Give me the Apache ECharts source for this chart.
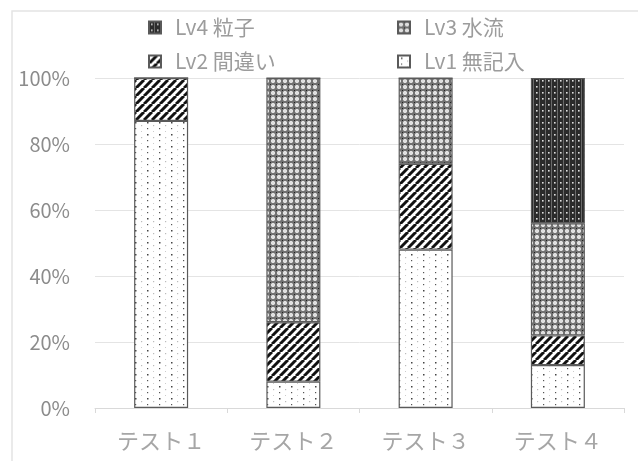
<!DOCTYPE html>
<html>
<head>
<meta charset="utf-8">
<script src="https://cdn.jsdelivr.net/npm/echarts@6/dist/echarts.min.js"></script>
<style>
  html, body { margin: 0; padding: 0; background: #fff; }
  #chart { width: 638px; height: 461px; }
</style>
</head>
<body>
<div id="chart"></div>
<script>
// Category labels and stacked percentages per level
const categories = ['テスト１', 'テスト２', 'テスト３', 'テスト４'];
const lv1Values = [87, 8, 48, 13];   // Lv1 無記入
const lv2Values = [13, 18, 26, 9];   // Lv2 間違い
const lv3Values = [0, 74, 26, 34];   // Lv3 水流
const lv4Values = [0, 0, 0, 44];     // Lv4 粒子
const seriesNames = ['Lv1 無記入', 'Lv2 間違い', 'Lv3 水流', 'Lv4 粒子'];
const yTicks = [0, 20, 40, 60, 80, 100];

const FONT = '"Noto Sans CJK JP", "Noto Sans", sans-serif';

// Small tiles used as repeating fill patterns
function tile(w, h, draw) {
  const c = document.createElement('canvas');
  c.width = w; c.height = h;
  const g = c.getContext('2d');
  draw(g, w, h);
  return { image: c, repeat: 'repeat' };
}

// sparse dots on white
const dotsPattern = tile(12, 12, (g) => {
  g.fillStyle = '#ffffff'; g.fillRect(0, 0, 12, 12);
  g.fillStyle = '#444'; g.fillRect(3, 2, 1.5, 1.5);
  g.fillStyle = '#555'; g.fillRect(3, 8, 1.2, 1.2);
  g.fillStyle = '#bbb'; g.fillRect(9, 5, 1.2, 1.2);
  g.fillStyle = '#ccc'; g.fillRect(9, 11, 1, 1);
});

// diagonal "/" stripes
const stripePattern = tile(8, 8, (g) => {
  g.fillStyle = '#ffffff'; g.fillRect(0, 0, 8, 8);
  g.strokeStyle = '#111'; g.lineWidth = 3;
  for (let k = -8; k <= 16; k += 8) {
    g.beginPath(); g.moveTo(k, 8); g.lineTo(k + 8, 0); g.stroke();
  }
});

// grey woven texture of light rings on a dark mesh
const weavePattern = tile(6, 6, (g) => {
  g.fillStyle = '#707070'; g.fillRect(0, 0, 6, 6);
  g.fillStyle = '#f6f6f6';
  g.beginPath(); g.arc(3, 3, 2.0, 0, Math.PI * 2); g.fill();
  g.fillStyle = '#999';
  g.fillRect(2.5, 2.5, 1, 1);
  g.fillStyle = '#222';
  g.fillRect(0, 0, 1, 1);
});

// dark fill with light dots
const darkPattern = tile(6, 6, (g) => {
  g.fillStyle = '#2b2b2b'; g.fillRect(0, 0, 6, 6);
  g.fillStyle = '#e0e0e0'; g.fillRect(2, 2, 1.6, 1.6);
  g.fillStyle = '#6a6a6a'; g.fillRect(5, 0, 1, 6);
});

const fills = [dotsPattern, stripePattern, weavePattern, darkPattern];
const values = [lv1Values, lv2Values, lv3Values, lv4Values];

const chart = echarts.init(document.getElementById('chart'), null, { renderer: 'canvas' });

const series = seriesNames.map((name, i) => ({
  name: name,
  type: 'bar',
  stack: 'total',
  barWidth: 54,
  data: values[i],
  itemStyle: { color: fills[i], borderColor: '#5a5a5a', borderWidth: 1.2 },
  emphasis: { disabled: true }
}));

// legend layout: two rows, two columns (Lv4, Lv3 / Lv2, Lv1)
const legendSlots = [
  { name: 'Lv4 粒子', left: 148, top: 17 },
  { name: 'Lv3 水流', left: 397, top: 17 },
  { name: 'Lv2 間違い', left: 148, top: 51 },
  { name: 'Lv1 無記入', left: 397, top: 51 }
];
const legends = legendSlots.map(s => ({
  data: [s.name],
  left: s.left,
  top: s.top,
  padding: 0,
  icon: 'rect',
  itemWidth: 12,
  itemHeight: 12,
  itemGap: 0,
  textStyle: { fontFamily: FONT, fontSize: 21, color: '#9c9c9c', padding: [0, 0, 0, 9] }
}));

chart.setOption({
  animation: false,
  backgroundColor: '#ffffff',
  legend: legends,
  grid: { left: 95, right: 14, top: 78, bottom: 53, containLabel: false },
  xAxis: {
    type: 'category',
    data: categories,
    axisLine: { lineStyle: { color: '#d9d9d9', width: 1 } },
    axisTick: { show: true, alignWithLabel: false, length: 5, lineStyle: { color: '#d9d9d9' } },
    axisLabel: { fontFamily: FONT, fontSize: 22, color: '#a6a6a6', margin: 22 }
  },
  yAxis: {
    type: 'value',
    min: yTicks[0],
    max: yTicks[yTicks.length - 1],
    interval: yTicks[1] - yTicks[0],
    axisLine: { show: false },
    axisTick: { show: false },
    splitLine: { lineStyle: { color: '#e4e4e4', width: 1 } },
    axisLabel: { fontFamily: FONT, fontSize: 20, color: '#8c8c8c', margin: 25, formatter: '{value}%' }
  },
  graphic: [
    { type: 'polyline', shape: { points: [[12, 461], [12, 11], [638, 11]] },
      style: { stroke: '#e4e4e4', lineWidth: 1.5, fill: null }, silent: true }
  ],
  series: series
});
</script>
</body>
</html>
